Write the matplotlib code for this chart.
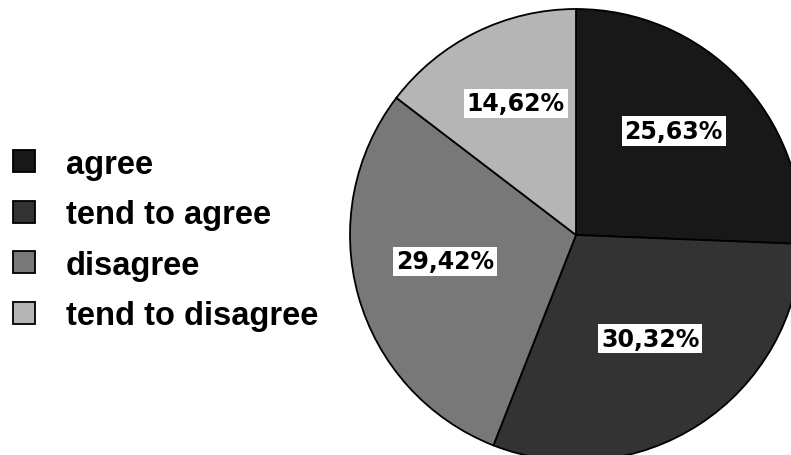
import matplotlib

matplotlib.use("Agg")
import matplotlib.pyplot as plt
from matplotlib.transforms import offset_copy

labels = ["agree", "tend to agree", "disagree", "tend to disagree"]
shares = [25.63, 30.32, 29.42, 14.62]
colors = ["#181818", "#333333", "#787878", "#b5b5b5"]

W, H = 791, 456
cx, cy, r = 576, 236, 226      # pie centre / radius in pixels

fig = plt.figure(figsize=(W / 100, H / 100), dpi=100)
ax = fig.add_axes([(cx - r) / W, (H - cy - r) / H, 2 * r / W, 2 * r / H])
ax.set_axis_off()

wedges, _, pcts = ax.pie(
    shares, colors=colors, startangle=90, counterclock=False,
    autopct=lambda p: f"{p:.2f}%".replace(".", ","), pctdistance=0.6,
    wedgeprops={"edgecolor": "black", "linewidth": 1.3},
    radius=1.0,
)
ax.set_xlim(-1, 1)
ax.set_ylim(-1, 1)
ax.set_aspect("equal")
# percentage boxes sit a little above the wedge centroids
lift = offset_copy(ax.transData, fig=fig, x=0, y=10, units="dots")
for t in pcts:
    t.set_transform(lift)
    t.set_fontsize(17)
    t.set_fontweight("bold")
    t.set_family("DejaVu Sans")
    t.set_color("black")
    t.set_bbox({"facecolor": "white", "edgecolor": "none", "pad": 2})

fig.legend(
    wedges, labels, loc="center left", bbox_to_anchor=(13 / W, 1 - 241 / H),
    frameon=False, prop={"family": "Liberation Sans", "weight": "bold", "size": 23.5},
    handlelength=0.66, handleheight=0.66, handletextpad=0.95, labelspacing=0.6,
    borderaxespad=0, borderpad=0,
)

fig.savefig("out.png", dpi=100)
